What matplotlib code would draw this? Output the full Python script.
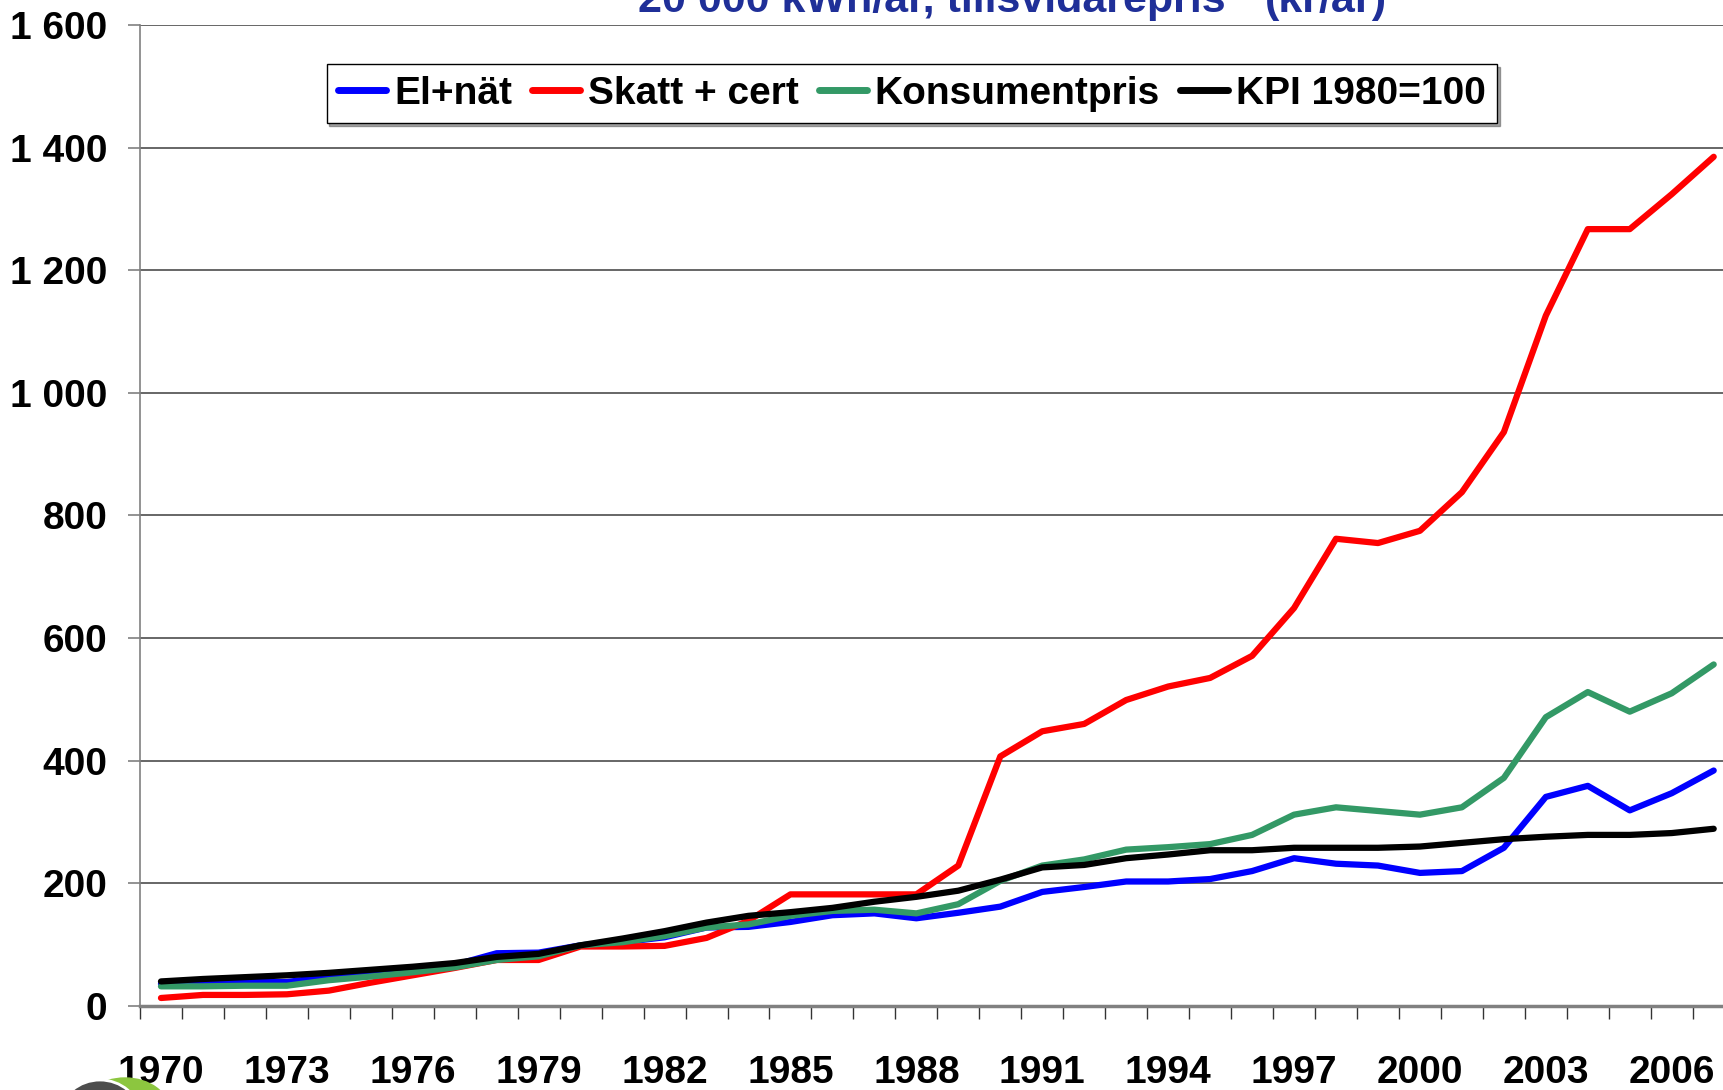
import matplotlib
matplotlib.use('Agg')
import matplotlib.pyplot as plt
from matplotlib.patches import Ellipse
from matplotlib.ticker import FixedLocator, FuncFormatter
import numpy as np

# --- Data ---
years = list(range(1970, 2008))

el_nat = [36, 38, 39, 39, 48, 54, 59, 67, 86, 87,
          99, 104, 112, 128, 129, 137, 148, 151, 143, 152,
          162, 186, 194, 203, 203, 207, 220, 241, 232, 229,
          217, 220, 258, 341, 359, 319, 347, 384]

skatt_cert = [13, 18, 18, 19, 25, 38, 50, 62, 75, 75,
              97, 97, 98, 111, 139, 182, 182, 182, 182, 229,
              407, 448, 460, 499, 521, 535, 571, 649, 762, 755,
              775, 838, 936, 1126, 1267, 1267, 1324, 1385]

konsumentpris = [32, 32, 33, 33, 42, 48, 55, 63, 75, 81,
                 99, 104, 114, 128, 133, 147, 155, 157, 151, 166,
                 204, 229, 239, 255, 259, 264, 279, 312, 324, 318,
                 312, 324, 372, 471, 512, 480, 510, 557]

kpi = [40, 44, 47, 50, 54, 59, 64, 70, 80, 85,
       99, 110, 122, 136, 147, 153, 160, 170, 178, 188,
       206, 226, 230, 241, 247, 254, 254, 258, 258, 258,
       260, 266, 272, 276, 279, 279, 282, 289]

series = [
    ("El+nät", el_nat, "#0000ff"),
    ("Skatt + cert", skatt_cert, "#ff0000"),
    ("Konsumentpris", konsumentpris, "#339966"),
    ("KPI 1980=100", kpi, "#000000"),
]

fonts = ['Liberation Sans', 'DejaVu Sans']
plt.rcParams['font.family'] = fonts
plt.rcParams['font.weight'] = 'bold'

# --- Figur ---
fig = plt.figure(figsize=(17.24, 10.90), dpi=100)
ax = fig.add_axes([0.0812, 0.0771, 0.925, 0.900])

x = np.arange(len(years))
for namn, vals, farg in series:
    ax.plot(x, vals, color=farg, linewidth=4.5, label=namn,
            solid_joinstyle='round', solid_capstyle='round')

ax.set_xlim(-0.5, len(years) - 0.5)
ax.set_ylim(0, 1600)

# y-axel
ax.set_yticks(np.arange(0, 1601, 200))
ax.yaxis.set_major_formatter(
    FuncFormatter(lambda v, p: f"{int(v):,}".replace(",", " ")))
ax.grid(axis='y', color='#4d4d4d', linewidth=1.2)
ax.set_axisbelow(True)
ax.tick_params(axis='y', length=8.6, width=1.2, color='#808080',
               pad=15, labelsize=28)

# x-axel: etiketter var tredje år, streck mellan kategorier
ax.xaxis.set_major_locator(FixedLocator(x[::3]))
ax.set_xticklabels([str(y) for y in years[::3]])
ax.xaxis.set_minor_locator(FixedLocator(np.arange(-0.5, len(years), 1.0)))
ax.tick_params(axis='x', which='major', length=0, pad=35, labelsize=28)
ax.tick_params(axis='x', which='minor', length=9.4, width=1.0,
               color='#333333')

for s in ['top', 'right']:
    ax.spines[s].set_visible(False)
ax.spines['left'].set_color('#808080')
ax.spines['left'].set_linewidth(1.2)
ax.spines['bottom'].set_color('#808080')
ax.spines['bottom'].set_linewidth(2.5)

for lbl in ax.get_xticklabels() + ax.get_yticklabels():
    lbl.set_fontweight('bold')

leg = ax.legend(loc='center', bbox_to_anchor=(0.484, 0.930), ncol=4,
                frameon=True, fancybox=False, shadow=True,
                handlelength=1.23, handletextpad=0.2, columnspacing=0.52,
                borderpad=0.3, prop={'family': fonts, 'weight': 'bold',
                                     'size': 28})
leg.get_frame().set_edgecolor('black')
leg.get_frame().set_linewidth(1.0)
for h in leg.get_lines():
    h.set_linewidth(5)

# titel (avskuren i överkant)
W, H = 1724.0, 1090.0
fig.text(638 / W, 1 - 12 / H, "20 000 kWh/år, tillsvidarepris",
         ha='left', va='baseline', fontsize=31, fontweight='bold',
         color='#1f2f98', family=fonts)
fig.text(1265 / W, 1 - 12 / H, "(kr/år)",
         ha='left', va='baseline', fontsize=31, fontweight='bold',
         color='#1f2f98', family=fonts)

# logotyp nere till vänster (delvis synlig)
fig.patches.append(Ellipse((125 / W, 1 - 1112 / H), 90 / W, 68 / H,
                           transform=fig.transFigure, color='#8cc63f'))
fig.patches.append(Ellipse((100 / W, 1 - 1114 / H), 78 / W, 68 / H,
                           transform=fig.transFigure, facecolor='#4d4d4d',
                           edgecolor='white', linewidth=2))

plt.savefig("out.png", dpi=100)
